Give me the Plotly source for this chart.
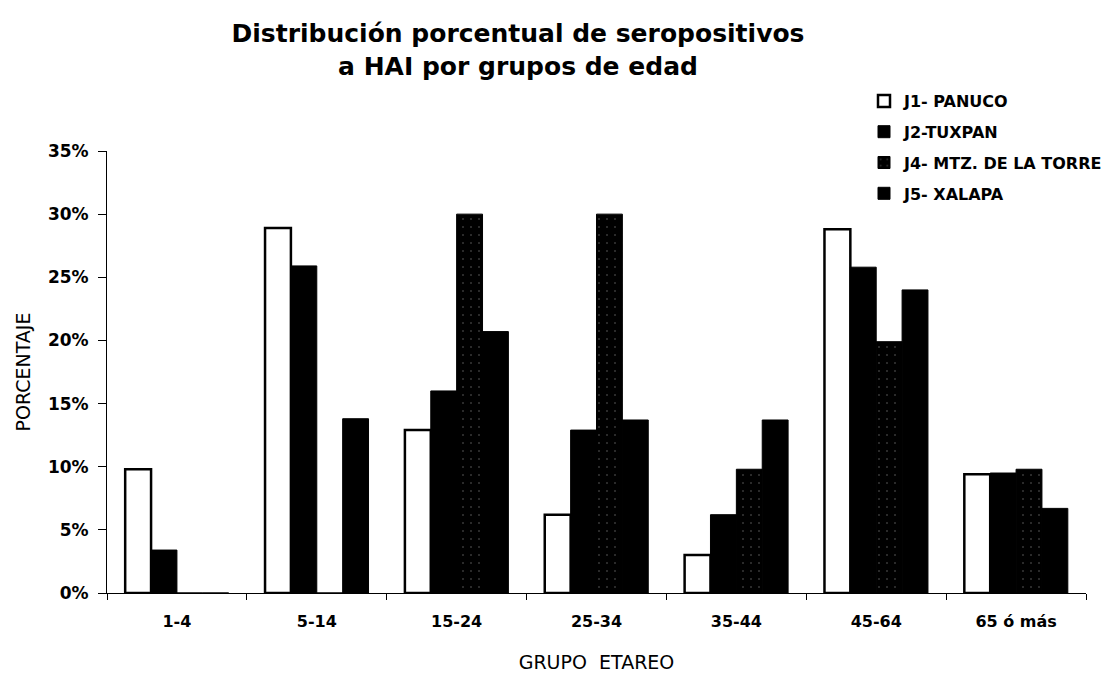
import plotly.graph_objects as go

categories = ["1-4", "5-14", "15-24", "25-34", "35-44", "45-64", "65 ó más"]
j1_panuco = [9.8, 28.9, 12.9, 6.2, 3.0, 28.8, 9.4]
j2_tuxpan = [3.4, 25.9, 16.0, 12.9, 6.2, 25.8, 9.5]
j4_mtz = [0, 0, 30.0, 30.0, 9.8, 19.9, 9.8]
j5_xalapa = [0, 13.8, 20.7, 13.7, 13.7, 24.0, 6.7]
series_names = ["J1- PANUCO", "J2-TUXPAN", "J4- MTZ. DE LA TORRE", "J5- XALAPA"]
y_ticks = [0, 5, 10, 15, 20, 25, 30, 35]
y_tick_labels = ["0%", "5%", "10%", "15%", "20%", "25%", "30%", "35%"]

FONT = "DejaVu Sans"

fig = go.Figure()
fig.add_trace(go.Bar(x=categories, y=j1_panuco, name=series_names[0], legendgroup="a",
                     marker=dict(color="white", line=dict(color="black", width=2.5))))
fig.add_trace(go.Bar(x=categories, y=j2_tuxpan, name=series_names[1], legendgroup="b",
                     marker=dict(color="black", line=dict(color="black", width=1))))
fig.add_trace(go.Bar(x=categories, y=j4_mtz, name=series_names[2], legendgroup="c",
                     marker=dict(color="black", line=dict(color="black", width=1),
                                 pattern=dict(shape=".", fgcolor="#707070", bgcolor="black",
                                              size=8, solidity=0.05))))
fig.add_trace(go.Bar(x=categories, y=j5_xalapa, name=series_names[3], legendgroup="d",
                     marker=dict(color="black", line=dict(color="black", width=1))))

fig.update_layout(
    width=1116, height=674,
    paper_bgcolor="white", plot_bgcolor="white",
    margin=dict(l=99, r=38, t=143, b=89, autoexpand=False),
    barmode="group", bargap=0.26, bargroupgap=0,
    font=dict(family=FONT, color="black"),
    title=dict(text="<b>Distribución porcentual de seropositivos<br>a HAI por grupos de edad</b>",
               x=510 / 1116, xanchor="center", y=1 - 34 / 674, yanchor="top",
               font=dict(family=FONT, size=25, color="black")),
    legend=dict(x=(856 - 99) / 979, xanchor="left", y=(585 - 76) / 442, yanchor="top",
                traceorder="grouped", tracegroupgap=7,
                font=dict(family=FONT, size=16, color="black", weight="bold"),
                bgcolor="rgba(0,0,0,0)", itemwidth=30),
    xaxis=dict(
        type="category", showgrid=False, showline=True, linecolor="black", linewidth=1,
        ticks="outside", ticklen=6, tickcolor="black", tickson="boundaries",
        ticklabelstandoff=14, automargin=False,
        tickfont=dict(family=FONT, size=16, weight="bold"),
        title=dict(text="GRUPO  ETAREO", font=dict(family=FONT, size=19), standoff=25),
    ),
    yaxis=dict(
        range=[0, 35], tickvals=y_ticks, ticktext=y_tick_labels, showgrid=False, zeroline=False,
        showline=True, linecolor="black", linewidth=1,
        ticks="outside", ticklen=8, tickcolor="black", ticklabelstandoff=6, automargin=False,
        tickfont=dict(family=FONT, size=17, weight="bold"),
        title=dict(text="PORCENTAJE", font=dict(family=FONT, size=19), standoff=12),
    ),
)

fig.write_html("out.html")
